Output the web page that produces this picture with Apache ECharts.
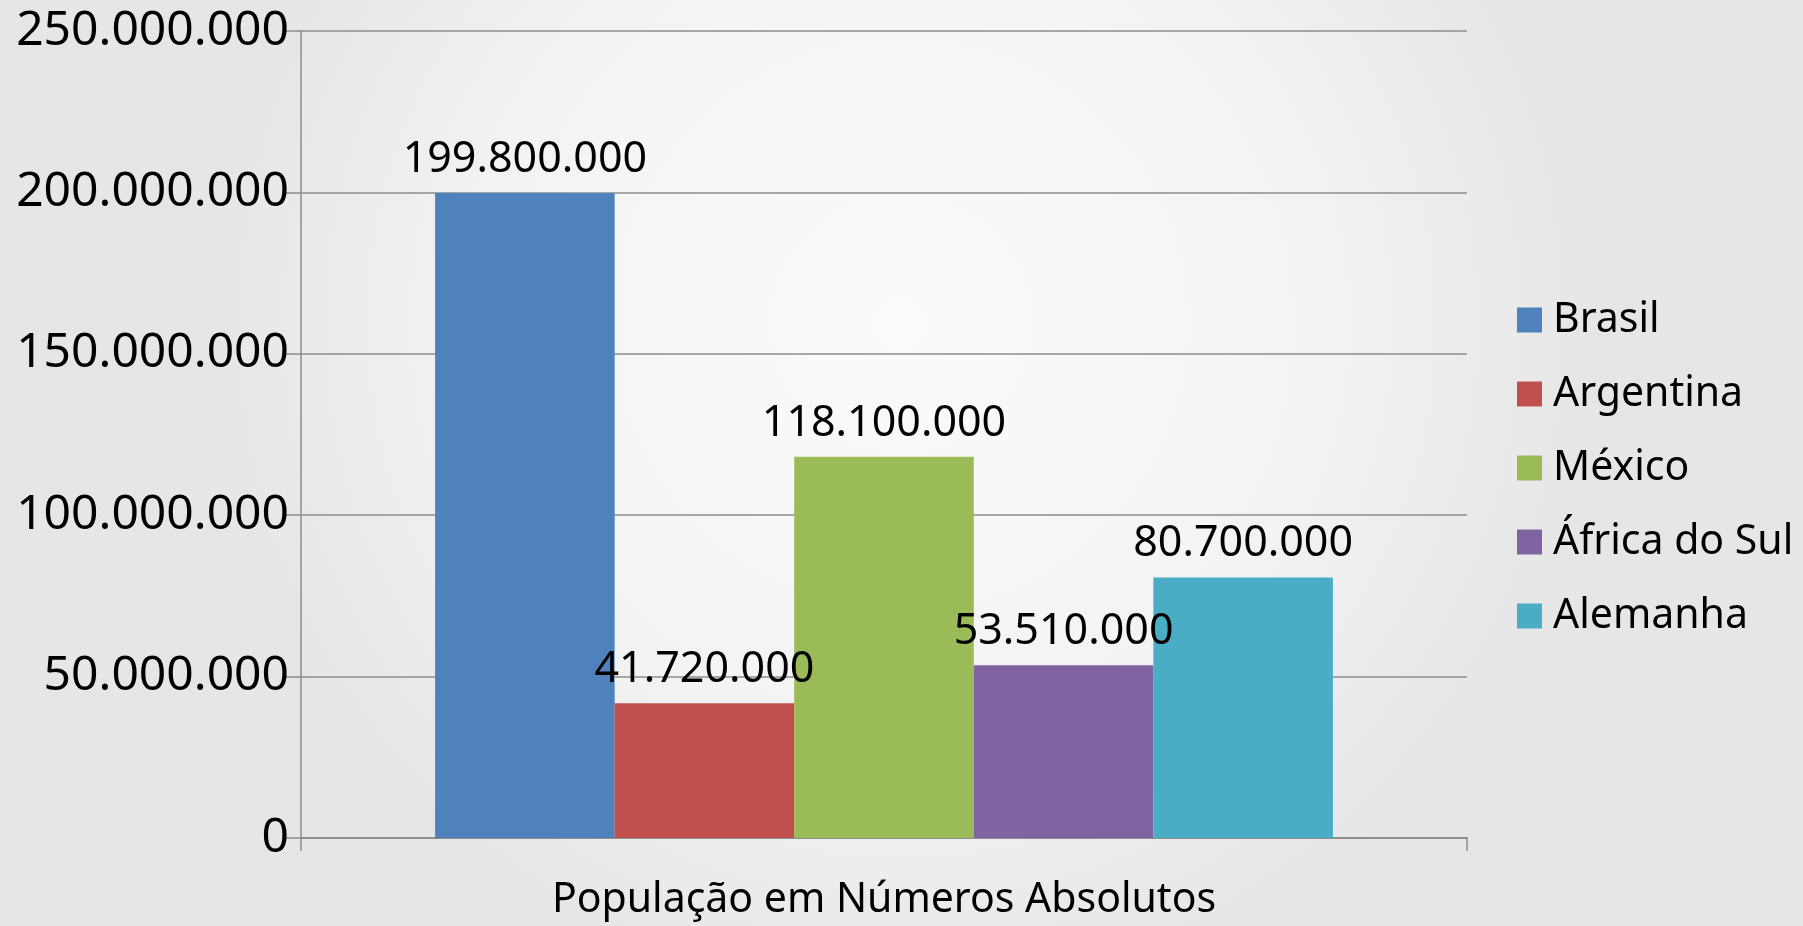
<!DOCTYPE html>
<html>
<head>
<meta charset="utf-8">
<script src="https://cdn.jsdelivr.net/npm/echarts@6/dist/echarts.min.js"></script>
<style>
  html, body { margin: 0; padding: 0; }
  #chart { width: 1803px; height: 926px; }
</style>
</head>
<body>
<div id="chart"></div>
<script>
// dados
const categories = ['População em Números Absolutos']
const countries = ['Brasil', 'Argentina', 'México', 'África do Sul', 'Alemanha']
const populations = [199800000, 41720000, 118100000, 53510000, 80700000]
const colors = ['#4F81BD', '#C0504D', '#9BBB59', '#8064A2', '#4BACC6']
const yTicks = [0, 50000000, 100000000, 150000000, 200000000, 250000000]

const fontFamily = '"Noto Sans", "Open Sans", sans-serif'

// 199800000 -> 199.800.000
function fmt(v) {
  return String(v).replace(/\B(?=(\d{3})+(?!\d))/g, '.')
}

const chart = echarts.init(document.getElementById('chart'))

const option = {
  backgroundColor: {
    type: 'radial', x: 0.5, y: 0.35, r: 0.75,
    colorStops: [
      { offset: 0, color: '#fbfbfb' },
      { offset: 0.6, color: '#f3f3f3' },
      { offset: 1, color: '#e6e6e6' }
    ]
  },
  color: colors,
  textStyle: { fontFamily: fontFamily },
  grid: {
    left: 301,
    right: 336,
    top: 31,
    bottom: 83,
    containLabel: false
  },
  legend: {
    orient: 'vertical',
    left: 1512,
    top: 290,
    icon: 'rect',
    itemWidth: 25,
    itemHeight: 25,
    itemGap: 24,
    textStyle: {
      fontSize: 41,
      lineHeight: 50,
      color: '#000',
      fontFamily: fontFamily,
      padding: [0, 0, 0, 6]
    },
    data: countries
  },
  xAxis: {
    type: 'category',
    data: categories,
    name: categories[0],
    nameLocation: 'middle',
    nameGap: 42,
    nameTextStyle: { fontSize: 41, color: '#000', fontFamily: fontFamily },
    axisLine: { lineStyle: { color: '#8c8c8c', width: 2 } },
    axisTick: { show: true, length: 13, lineStyle: { color: '#8c8c8c', width: 1.5 } },
    axisLabel: { show: false }
  },
  yAxis: {
    type: 'value',
    min: 0,
    max: yTicks[yTicks.length - 1],
    interval: yTicks[1] - yTicks[0],
    axisLine: { show: true, lineStyle: { color: '#8c8c8c', width: 1.5 } },
    axisTick: { show: true, length: 15, lineStyle: { color: '#8c8c8c', width: 1.5 } },
    splitLine: { lineStyle: { color: '#8c8c8c', width: 1.5 } },
    axisLabel: {
      margin: 12,
      fontSize: 48,
      color: '#000',
      fontFamily: fontFamily,
      formatter: v => fmt(v)
    }
  },
  series: countries.map((name, i) => ({
    name: name,
    type: 'bar',
    barGap: '0%',
    barCategoryGap: '23%',
    data: [populations[i]],
    label: {
      show: true,
      position: 'top',
      distance: 12,
      fontSize: 43,
      color: '#000',
      fontFamily: fontFamily,
      formatter: p => fmt(p.value)
    }
  }))
}

chart.setOption(option)
</script>
</body>
</html>
